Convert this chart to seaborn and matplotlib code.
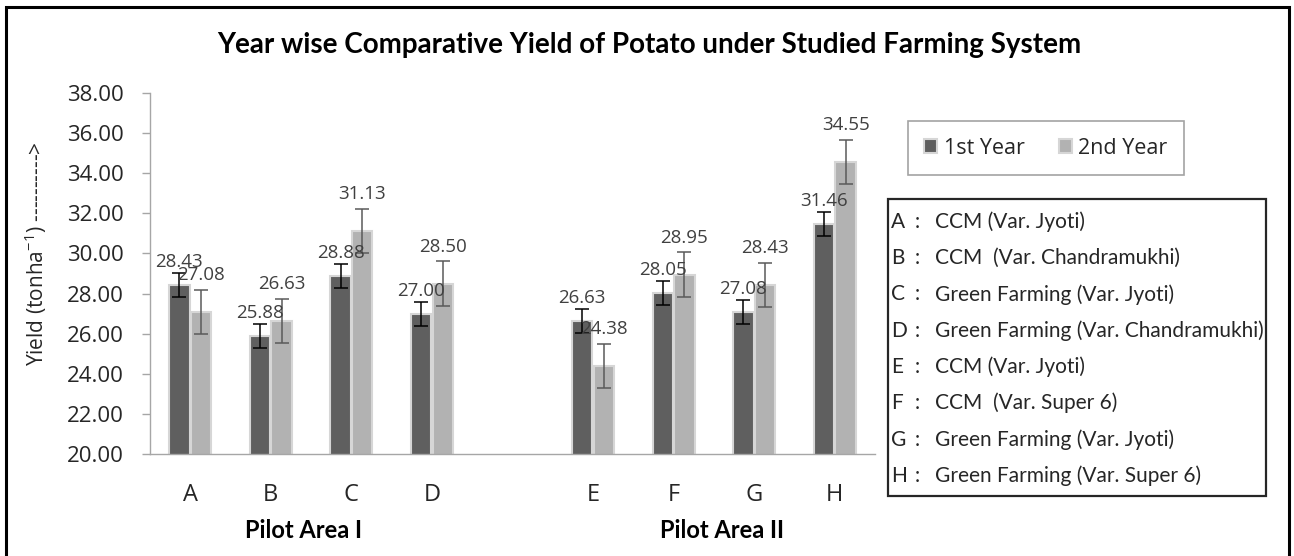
import matplotlib
matplotlib.use("Agg")
import matplotlib.pyplot as plt
import matplotlib.transforms as mtransforms
from matplotlib.patches import Rectangle
import seaborn as sns
import pandas as pd

# data
treatments = ["A", "B", "C", "D", "E", "F", "G", "H"]
year1 = [28.43, 25.88, 28.88, 27.00, 26.63, 28.05, 27.08, 31.46]
year2 = [27.08, 26.63, 31.13, 28.50, 24.38, 28.95, 28.43, 34.55]
err1 = [0.6, 0.6, 0.6, 0.6, 0.6, 0.6, 0.6, 0.6]
err2 = [1.1, 1.1, 1.1, 1.1, 1.1, 1.1, 1.1, 1.1]
years = ["1st Year", "2nd Year"]
areas = ["Pilot Area I", "Pilot Area II"]
descriptions = [
    "CCM (Var. Jyoti)",
    "CCM  (Var. Chandramukhi)",
    "Green Farming (Var. Jyoti)",
    "Green Farming (Var. Chandramukhi)",
    "CCM (Var. Jyoti)",
    "CCM  (Var. Super 6)",
    "Green Farming (Var. Jyoti)",
    "Green Farming (Var. Super 6)",
]

df = pd.DataFrame({
    "treatment": treatments * 2,
    "yield": year1 + year2,
    "year": [years[0]] * len(treatments) + [years[1]] * len(treatments),
})
# empty slot between the two pilot areas
order = treatments[:4] + [" "] + treatments[4:]

sns.set_style("white")
plt.rcParams["font.family"] = ["Open Sans", "DejaVu Sans"]
narrow = ["Lato", "DejaVu Sans"]

W, H = 1294, 556
fig = plt.figure(figsize=(W / 100, H / 100), dpi=100)
ax = fig.add_axes([150 / W, 1 - 454 / H, 725 / W, 361 / H])

dark, light = "#5f5f5f", "#b2b2b2"
sns.barplot(data=df, x="treatment", y="yield", hue="year", order=order,
            palette=[dark, light], width=0.54, gap=0.06, errorbar=None,
            edgecolor="#d6d6d6", linewidth=1.5, ax=ax)

handles, labels = ax.get_legend_handles_labels()
ax.get_legend().remove()

# error bars and value labels on top of seaborn's bars
for cont, vals, errs, ecol, off in zip(ax.containers, [year1, year2], [err1, err2],
                                       ["black", "#5a5a5a"], [23, 37]):
    for bar, v, e in zip(cont.patches, vals, errs):
        xc = bar.get_x() + bar.get_width() / 2
        ax.errorbar(xc, v, yerr=e, fmt="none", ecolor=ecol, elinewidth=1.1,
                    capsize=5, capthick=1.1, zorder=5)
        ax.annotate(f"{v:.2f}", (xc, v), xytext=(0, off), textcoords="offset pixels",
                    ha="center", va="center", fontsize=13.5, color="#404040", zorder=6)

ax.set_xlim(-0.5, 8.5)
ax.set_ylim(20, 38)
ax.set_yticks(range(20, 39, 2))
ax.yaxis.set_major_formatter(matplotlib.ticker.FormatStrFormatter("%.2f"))
ax.tick_params(axis="y", length=6, width=1, color="#a6a6a6", pad=13,
               labelsize=16, labelcolor="#262626", left=True)
ax.tick_params(axis="x", length=0, pad=21, labelsize=17, labelcolor="#262626")
ax.set_xlabel("")
ax.set_ylabel("Yield (tonha$^{\\mathregular{-1}}$) ---------->", fontsize=15, color="#262626")
ax.yaxis.set_label_coords(-0.139, 0.554)
sns.despine(ax=ax)
for side in ["left", "bottom"]:
    ax.spines[side].set_color("#a6a6a6")
    ax.spines[side].set_linewidth(1)

trans = mtransforms.blended_transform_factory(ax.transData, fig.transFigure)
for xpos, name in zip([1.4, 6.6], areas):
    ax.text(xpos, 1 - 531 / H, name, transform=trans, ha="center", va="center",
            fontsize=17, fontweight="bold", family=narrow, color="black")

fig.text(649 / W, 1 - 45 / H, "Year wise Comparative Yield of Potato under Studied Farming System",
         ha="center", va="center", fontsize=20, fontweight="bold",
         family=narrow, color="black")

leg = fig.legend(handles, labels, loc="center", bbox_to_anchor=(1046 / W, 1 - 148 / H),
                 ncol=2, fontsize=15.5, frameon=True, fancybox=False,
                 handlelength=0.6, handleheight=0.6, handletextpad=0.3,
                 columnspacing=1.6, borderpad=0.75, labelcolor="#262626")
leg.get_frame().set_edgecolor("#8c8c8c")
leg.get_frame().set_linewidth(1.2)

# description box
fig.add_artist(Rectangle((888 / W, 1 - 496 / H), 378 / W, 297 / H, transform=fig.transFigure,
                         fill=False, edgecolor="#262626", linewidth=1.6))
for i, (t, d) in enumerate(zip(treatments, descriptions)):
    y = 1 - (221.7 + i * 36.3) / H
    fig.text(891 / W, y, t, ha="left", va="center", fontsize=15,
             family=narrow, color="#262626")
    fig.text(917 / W, y, ":", ha="center", va="center", fontsize=15,
             family=narrow, color="#262626")
    fig.text(935 / W, y, d, ha="left", va="center", fontsize=15,
             family=narrow, color="#262626")

# outer chart border (bottom edge falls outside the picture)
fig.add_artist(Rectangle((6 / W, -0.05), 1283 / W, 1.05 - 7 / H, transform=fig.transFigure,
                         fill=False, edgecolor="black", linewidth=2.2))

fig.savefig("out.png", dpi=100)
